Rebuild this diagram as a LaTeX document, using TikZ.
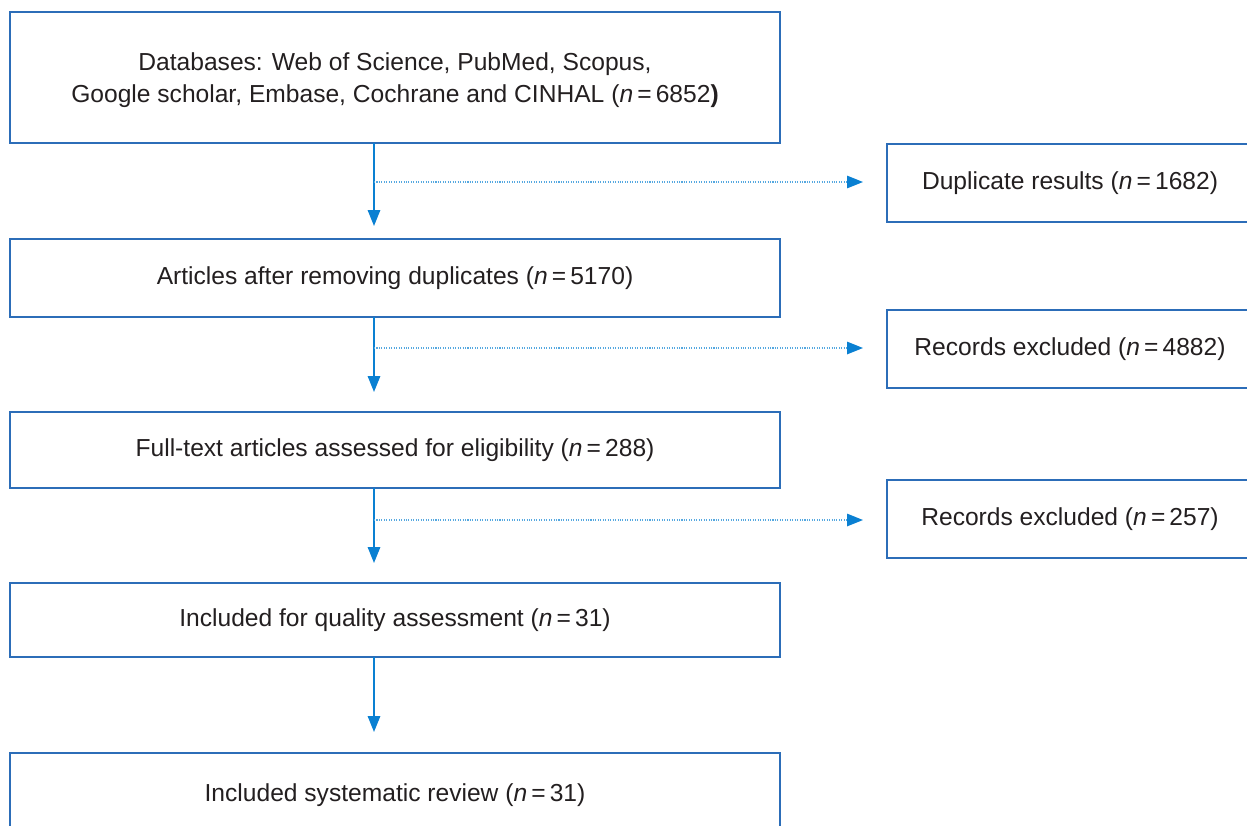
\documentclass[tikz,border=0pt]{standalone}
\usepackage{fontspec}
\setmainfont{Liberation Sans}
\usetikzlibrary{arrows.meta}
\definecolor{boxblue}{HTML}{2C6DB8}
\definecolor{arrblue}{HTML}{0A80D2}
\definecolor{dotblue}{HTML}{55A8E0}
\definecolor{txt}{HTML}{231F20}
\newcommand{\nn}{\textit{n}\,=\,}
\tikzset{
  flowbox/.style={draw=boxblue, line width=0.9pt, fill=white},
  lbl/.style={font=\fontsize{14pt}{18pt}\selectfont, text=txt, align=center},
  mainarrow/.style={draw=arrblue, line width=0.9pt, -{Triangle[length=0.32cm,width=0.25cm]}},
  sidearrow/.style={draw=dotblue, line width=0.8pt, dash pattern=on 0.6pt off 0.8pt, -{Triangle[length=0.32cm,width=0.25cm,color=arrblue,fill=arrblue]}}
}
\begin{document}
\begin{tikzpicture}[x=0.02cm,y=-0.02cm]
\useasboundingbox (0,0) rectangle (1247,825);
% main boxes
\draw[flowbox] (10,12) rectangle (780,143);
\node[lbl] (b1) at (395,80) {Databases: Web of Science, PubMed, Scopus,\\Google scholar, Embase, Cochrane and CINHAL (\nn6852\textbf{)}};
\coordinate (b1s) at (374,143);
\draw[flowbox] (10,239) rectangle (780,317);
\node[lbl] (b2) at (395,278) {Articles after removing duplicates (\nn5170)};
\coordinate (b2n) at (374,226);
\coordinate (b2s) at (374,317);
\draw[flowbox] (10,412) rectangle (780,488);
\node[lbl] (b3) at (395,450) {Full-text articles assessed for eligibility (\nn288)};
\coordinate (b3n) at (374,392);
\coordinate (b3s) at (374,488);
\draw[flowbox] (10,583) rectangle (780,657);
\node[lbl] (b4) at (395,620) {Included for quality assessment (\nn31)};
\coordinate (b4n) at (374,563);
\coordinate (b4s) at (374,657);
\draw[flowbox] (10,753) rectangle (780,840);
\node[lbl] (b5) at (395,795) {Included systematic review (\nn31)};
\coordinate (b5n) at (374,732);
% side boxes
\draw[flowbox] (887,144) rectangle (1255,222);
\node[lbl] (s1) at (1070,183) {Duplicate results (\nn1682)};
\coordinate (s1w) at (863,182);
\draw[flowbox] (887,310) rectangle (1255,388);
\node[lbl] (s2) at (1070,349) {Records excluded (\nn4882)};
\coordinate (s2w) at (863,348);
\draw[flowbox] (887,480) rectangle (1255,558);
\node[lbl] (s3) at (1070,519) {Records excluded (\nn257)};
\coordinate (s3w) at (863,520);
% junctions
\coordinate (j1) at (374,182);
\coordinate (j2) at (374,348);
\coordinate (j3) at (374,520);
% arrows
\draw[mainarrow] (b1s) -- (b2n);
\draw[mainarrow] (b2s) -- (b3n);
\draw[mainarrow] (b3s) -- (b4n);
\draw[mainarrow] (b4s) -- (b5n);
\draw[sidearrow] (j1) -- (s1w);
\draw[sidearrow] (j2) -- (s2w);
\draw[sidearrow] (j3) -- (s3w);
\end{tikzpicture}
\end{document}
